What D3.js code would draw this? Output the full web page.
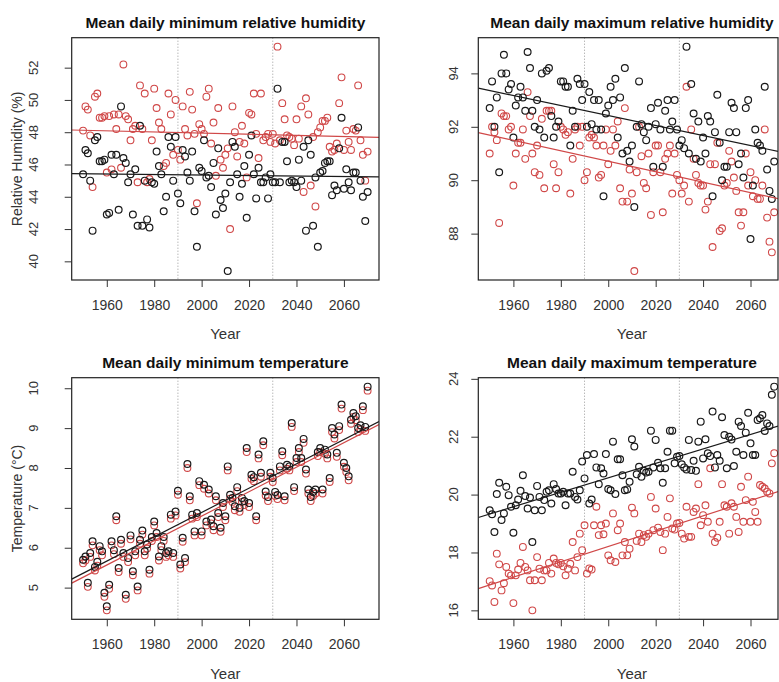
<!DOCTYPE html>
<html>
<head>
<meta charset="utf-8">
<script src="https://cdn.jsdelivr.net/npm/d3@7"></script>
<style>
body { margin:0; background:#fff; }
svg text { font-family: "Liberation Sans", Arial, sans-serif; }
</style>
</head>
<body>
<svg id="chart" width="779" height="682"></svg>
<script>
// one value per year, 1950..2070
var years = d3.range(1950, 2071);
var refYears = [1990, 2030];
var xTicks = [1960, 1980, 2000, 2020, 2040, 2060];
var trendYears = [1950, 2070];

// Mean daily minimum relative humidity (%)
var minRhBlack = [45.4,46.9,46.7,45.0,41.9,47.5,47.7,46.2,46.2,46.3,42.9,43.0,46.6,45.4,46.6,43.2,49.6,46.4,46.1,44.9,
  45.4,42.9,45.7,42.2,48.4,42.2,45.0,42.6,42.1,44.9,44.8,46.8,45.9,45.4,43.1,44.0,47.7,47.1,45.0,47.7,
  44.2,43.6,46.9,46.5,45.5,45.0,46.8,43.1,40.9,45.8,45.6,47.5,45.2,45.3,44.6,46.1,42.9,47.0,43.8,43.3,
  44.2,39.4,44.9,47.4,47.1,45.4,44.0,44.8,45.9,42.7,46.6,47.8,45.4,43.9,45.8,44.9,44.9,45.2,43.9,45.4,
  44.9,44.9,50.7,44.9,47.4,47.4,46.2,44.9,45.0,44.9,44.6,46.3,45.0,47.1,41.9,47.5,46.6,42.2,45.2,40.9,
  45.5,45.6,46.1,46.2,46.2,44.1,44.7,44.4,47.0,48.9,44.5,45.7,44.9,44.4,45.5,45.5,48.3,45.0,44.0,42.5,44.3];
var minRhRed = [48.1,49.6,49.4,47.8,44.6,50.2,50.4,48.9,48.9,49.0,45.5,49.0,45.7,49.1,48.2,49.1,45.8,52.2,49.0,48.8,
  47.5,48.2,48.4,44.9,50.9,48.2,50.4,44.9,45.1,47.5,50.7,49.5,48.6,48.2,45.9,46.1,50.4,49.1,46.6,50.0,
  46.9,46.3,49.6,48.2,47.8,50.5,49.4,47.9,43.6,48.5,48.2,47.9,50.2,50.7,47.3,48.6,45.3,49.5,46.3,45.8,
  46.6,47.0,42.0,49.6,48.0,46.5,47.4,48.4,47.3,45.2,49.2,49.1,50.4,47.9,46.4,50.4,47.5,47.7,47.9,47.4,
  47.9,47.3,53.3,47.5,49.8,48.8,47.8,47.7,47.6,47.2,48.8,47.6,49.6,44.3,50.1,49.1,44.7,47.7,43.4,48.0,
  48.3,48.7,48.7,48.9,47.1,46.8,46.9,47.3,49.8,51.4,46.9,48.1,47.4,46.9,48.2,48.1,50.9,47.5,46.6,45.0,46.8];
var minRhTrendBlack = [45.43, 45.24];
var minRhTrendRed = [48.12, 47.70];
var minRhTicks = [40, 42, 44, 46, 48, 50, 52];

// Mean daily maximum relative humidity (%)
var maxRhBlack = [92.7,93.7,92.0,93.1,90.3,94.0,94.7,94.0,93.4,93.6,91.6,92.8,93.1,93.5,93.1,92.6,94.8,94.2,92.6,92.0,
  93.0,91.9,94.0,91.6,94.1,94.2,92.4,91.6,92.0,92.2,93.7,93.7,93.5,93.5,91.3,92.6,92.0,93.8,93.6,93.0,
  93.6,92.0,93.3,92.1,93.0,91.9,93.0,91.9,89.4,92.5,92.8,93.5,93.0,93.8,91.6,93.1,91.0,94.2,91.1,90.7,
  91.3,89.0,92.0,93.7,92.1,91.8,91.5,92.0,92.7,90.5,92.1,92.9,91.9,90.5,92.6,93.0,91.9,92.2,93.0,91.9,
  91.3,91.5,91.2,95.0,91.0,93.6,92.5,90.8,92.2,90.7,91.6,91.0,92.4,92.2,89.4,91.8,93.2,91.4,90.0,90.5,
  90.5,91.8,92.9,92.7,91.8,90.6,91.0,90.1,92.7,93.0,87.8,89.8,91.9,91.4,91.3,91.1,93.5,90.4,89.6,89.3,90.7];
var maxRhRed = [91.0,92.0,91.8,91.5,88.4,92.5,92.4,92.4,91.9,92.0,89.8,91.0,91.4,91.4,91.9,90.8,93.3,92.4,91.0,90.3,
  91.3,90.2,92.3,89.7,92.6,92.6,92.6,90.6,89.7,90.3,92.0,91.9,91.7,91.8,89.5,90.8,91.9,92.0,91.3,92.0,
  90.0,90.3,91.6,91.7,91.6,91.3,90.1,90.2,91.3,91.9,90.6,91.1,91.9,91.3,92.2,89.7,89.2,92.7,89.2,90.4,
  89.5,86.6,90.3,92.0,90.9,89.9,89.7,91.0,88.7,90.3,91.3,91.3,90.3,88.8,90.8,91.0,91.3,89.5,91.0,90.2,
  90.0,89.5,89.8,93.5,89.2,91.9,90.8,90.2,89.9,89.8,89.8,88.9,89.2,90.6,87.5,90.6,91.4,88.1,88.2,89.8,
  89.9,91.1,90.7,90.1,89.6,88.8,88.3,88.8,91.0,89.8,90.3,89.4,90.0,89.3,89.3,89.8,91.9,88.6,87.7,87.3,88.8];
var maxRhTrendBlack = [93.36, 91.11];
var maxRhTrendRed = [91.69, 89.34];
var maxRhTicks = [88, 90, 92, 94];

// Mean daily minimum temperature (deg C)
var minTBlack = [5.70,5.78,5.12,5.87,6.16,5.52,5.65,6.04,5.91,4.87,4.53,5.07,6.16,5.94,6.79,5.49,6.20,5.87,4.82,5.74,
  6.31,5.41,5.91,5.03,6.20,6.43,5.91,6.08,5.45,6.27,6.66,6.37,5.78,6.04,6.27,5.87,5.91,6.83,5.87,6.91,
  7.43,5.58,6.25,5.74,8.10,7.29,6.83,6.41,6.87,7.67,6.41,7.58,6.66,7.46,6.71,6.54,7.29,6.87,6.50,7.12,
  6.79,8.04,7.33,7.25,7.04,7.52,7.00,7.25,7.17,8.50,7.12,7.83,7.77,6.79,8.34,7.88,8.67,7.41,7.27,7.88,
  7.75,7.40,7.32,8.04,8.42,7.29,8.08,8.04,9.13,7.52,8.25,8.50,8.25,8.73,7.96,7.46,7.27,7.40,7.46,8.40,
  8.50,7.46,8.46,8.34,7.75,9.00,8.84,8.38,9.05,9.59,8.13,8.00,7.79,9.21,9.38,9.30,9.00,9.07,9.55,9.03,10.04];
var minTRed = [5.61,5.68,5.02,5.77,6.06,5.43,5.55,5.94,5.81,4.77,4.43,4.97,6.06,5.84,6.69,5.39,6.10,5.77,4.72,5.64,
  6.21,5.31,5.81,4.93,6.10,6.33,5.81,5.98,5.35,6.17,6.56,6.27,5.68,5.94,6.17,5.77,5.81,6.73,5.77,6.81,
  7.33,5.48,6.15,5.64,8.00,7.19,6.73,6.31,6.77,7.57,6.31,7.48,6.56,7.36,6.61,6.44,7.19,6.77,6.40,7.02,
  6.69,7.94,7.23,7.15,6.94,7.42,6.90,7.15,7.07,8.40,7.02,7.73,7.67,6.69,8.24,7.78,8.57,7.31,7.17,7.78,
  7.65,7.30,7.22,7.94,8.32,7.19,7.98,7.94,9.03,7.42,8.15,8.40,8.15,8.63,7.86,7.36,7.17,7.30,7.36,8.30,
  8.40,7.36,8.36,8.24,7.65,8.90,8.74,8.28,8.95,9.49,8.03,7.90,7.69,9.11,9.28,9.20,8.90,8.97,9.45,8.93,9.94];
var minTTrendBlack = [5.36, 9.02];
var minTTrendRed = [5.26, 8.94];
var minTTicks = [5, 6, 7, 8, 9, 10];

// Mean daily maximum temperature (deg C)
var maxTBlack = [19.46,19.32,18.71,20.02,20.41,19.12,19.35,20.27,19.98,19.58,18.68,19.63,19.83,20.13,20.67,19.95,19.52,19.90,18.36,19.46,
  20.30,19.92,19.46,19.81,20.10,20.15,19.69,20.36,20.19,20.04,20.04,20.10,19.63,20.04,20.04,20.79,19.92,19.83,20.15,21.14,
  20.56,21.37,19.69,19.83,21.40,20.94,20.36,20.91,20.73,21.40,20.19,20.15,21.83,20.02,21.22,21.22,20.67,20.15,20.18,20.44,
  21.91,21.66,20.70,20.96,20.62,20.82,20.76,20.79,22.21,20.94,21.89,21.10,20.91,20.41,20.91,21.48,22.21,22.21,21.08,21.31,
  21.33,21.05,20.94,20.87,21.89,20.85,21.17,20.82,21.83,22.52,21.25,21.91,21.43,21.33,22.87,20.94,21.37,21.17,22.67,22.06,
  20.91,22.00,21.90,20.99,21.48,22.52,22.37,21.37,22.14,22.83,21.77,21.37,21.37,22.58,22.64,22.75,22.20,22.46,22.37,23.45,23.73];
var maxTRed = [17.01,16.86,16.29,17.96,17.59,16.69,16.94,17.50,17.27,17.21,16.25,17.21,17.41,17.64,18.19,17.50,17.38,17.04,16.00,17.04,
  17.84,17.44,17.04,17.38,17.38,17.64,17.27,17.79,17.64,17.59,17.64,17.52,17.21,17.44,17.61,18.36,17.38,17.84,18.65,18.08,
  18.94,17.27,17.45,17.41,18.94,19.58,18.60,18.94,18.63,19.00,17.90,17.73,19.35,17.67,18.77,19.00,17.90,18.36,17.90,18.13,
  19.55,19.35,18.40,18.65,18.36,18.60,18.54,18.65,19.92,18.77,19.52,18.86,18.71,18.08,18.65,19.23,19.87,18.83,18.79,19.00,
  19.02,18.65,18.48,19.58,18.54,18.54,19.40,19.52,20.36,18.94,19.29,19.63,19.06,20.91,18.65,18.36,18.51,19.06,20.36,19.63,
  19.58,18.65,19.70,19.58,19.23,18.71,20.27,19.06,19.81,20.62,19.06,19.75,19.40,19.06,20.33,20.27,20.21,20.10,20.04,21.08,21.43];
var maxTTrendBlack = [19.33, 22.33];
var maxTTrendRed = [16.88, 20.06];
var maxTTicks = [16, 18, 20, 22, 24];

var panels = [
  { title: "Mean daily minimum relative humidity", ylab: "Relative Humidity (%)",
    black: minRhBlack, red: minRhRed, tb: minRhTrendBlack, tr: minRhTrendRed, ticks: minRhTicks,
    left: 71.7, top: 37.7, bottom: 280, labX: 33.3, row: 0 },
  { title: "Mean daily maximum relative humidity", ylab: null,
    black: maxRhBlack, red: maxRhRed, tb: maxRhTrendBlack, tr: maxRhTrendRed, ticks: maxRhTicks,
    left: 478.3, top: 37.7, bottom: 280, labX: 453.3, row: 0 },
  { title: "Mean daily minimum temperature", ylab: "Temperature (\u00B0C)",
    black: minTBlack, red: minTRed, tb: minTTrendBlack, tr: minTTrendRed, ticks: minTTicks,
    left: 71.7, top: 377.7, bottom: 619.3, labX: 33.3, row: 1 },
  { title: "Mean daily maximum temperature", ylab: null,
    black: maxTBlack, red: maxTRed, tb: maxTTrendBlack, tr: maxTTrendRed, ticks: maxTTicks,
    left: 478.3, top: 377.7, bottom: 619.3, labX: 453.3, row: 1 }
];

var svg = d3.select("#chart");
var plotW = 307.3;
var blackCol = "#1a1a1a", redCol = "#d04848";

// R style range: data extent widened by 4%
function pad(ext) {
  var d = (ext[1] - ext[0]) * 0.04;
  return [ext[0] - d, ext[1] + d];
}

panels.forEach(function(p, i) {
  var g = svg.append("g");
  var right = Math.min(p.left + plotW, 778);
  var x = d3.scaleLinear().domain(pad(d3.extent(years))).range([p.left, p.left + plotW]);
  var y = d3.scaleLinear().domain(pad(d3.extent(p.black.concat(p.red)))).range([p.bottom, p.top]);

  var clipId = "clip" + i;
  g.append("clipPath").attr("id", clipId).append("rect")
    .attr("x", p.left).attr("y", p.top).attr("width", right - p.left).attr("height", p.bottom - p.top);

  var baseY = p.row == 0 ? 0 : 340;

  // title
  g.append("text").attr("x", p.left + plotW / 2).attr("y", baseY + 28)
    .attr("text-anchor", "middle").style("font-size", "15.5px").style("font-weight", "bold")
    .attr("fill", "#111").text(p.title);

  // reference years
  g.selectAll(".ref").data(refYears).enter().append("line")
    .attr("x1", function(d) { return x(d); }).attr("x2", function(d) { return x(d); })
    .attr("y1", p.top).attr("y2", p.bottom)
    .attr("stroke", "#999").attr("stroke-width", 1).attr("stroke-dasharray", "1,2");

  // points
  var pts = g.append("g").attr("clip-path", "url(#" + clipId + ")");
  pts.selectAll(".pr").data(p.red).enter().append("circle")
    .attr("cx", function(d, j) { return x(years[j]); })
    .attr("cy", function(d) { return y(d); })
    .attr("r", 3.4).attr("fill", "none").attr("stroke", redCol).attr("stroke-width", 1.1);
  pts.selectAll(".pb").data(p.black).enter().append("circle")
    .attr("cx", function(d, j) { return x(years[j]); })
    .attr("cy", function(d) { return y(d); })
    .attr("r", 3.4).attr("fill", "none").attr("stroke", blackCol).attr("stroke-width", 1.2);

  // fitted lines, extended over the whole plot region
  [[p.tb, blackCol], [p.tr, redCol]].forEach(function(t) {
    var slope = (t[0][1] - t[0][0]) / (trendYears[1] - trendYears[0]);
    var dom = x.domain();
    pts.append("line")
      .attr("x1", x(dom[0])).attr("y1", y(t[0][0] + slope * (dom[0] - trendYears[0])))
      .attr("x2", x(dom[1])).attr("y2", y(t[0][0] + slope * (dom[1] - trendYears[0])))
      .attr("stroke", t[1]).attr("stroke-width", 1.2);
  });

  // box
  g.append("rect").attr("x", p.left).attr("y", p.top)
    .attr("width", right - p.left).attr("height", p.bottom - p.top)
    .attr("fill", "none").attr("stroke", "#222").attr("stroke-width", 1.2);

  // x axis
  var xa = g.append("g").attr("transform", "translate(0," + p.bottom + ")")
    .call(d3.axisBottom(x).tickValues(xTicks).tickFormat(d3.format("d")).tickSize(7).tickPadding(13));
  xa.select(".domain").remove();
  xa.selectAll("line").attr("stroke", "#333");
  xa.selectAll("text").style("font-size", "14px").attr("fill", "#333")
    .style("font-family", "'Liberation Sans', Arial, sans-serif");

  // y axis ticks + rotated labels
  var ya = g.append("g").attr("transform", "translate(" + p.left + ",0)")
    .call(d3.axisLeft(y).tickValues(p.ticks).tickSize(7).tickFormat(""));
  ya.select(".domain").remove();
  ya.selectAll("line").attr("stroke", "#333");
  g.selectAll(".yl").data(p.ticks).enter().append("text")
    .attr("transform", function(d) { return "translate(" + p.labX + "," + y(d) + ") rotate(-90)"; })
    .attr("text-anchor", "middle").attr("dy", "0.35em")
    .style("font-size", "13px").attr("fill", "#333").text(function(d) { return d; });

  g.append("text").attr("x", p.left + plotW / 2).attr("y", baseY + 339)
    .attr("text-anchor", "middle").style("font-size", "15px").attr("fill", "#333").text("Year");

  if (p.ylab) {
    g.append("text")
      .attr("transform", "translate(17.5," + ((p.top + p.bottom) / 2) + ") rotate(-90)")
      .attr("text-anchor", "middle").attr("dy", "0.35em")
      .style("font-size", "14px").attr("fill", "#333").text(p.ylab);
  }
});
</script>
</body>
</html>
